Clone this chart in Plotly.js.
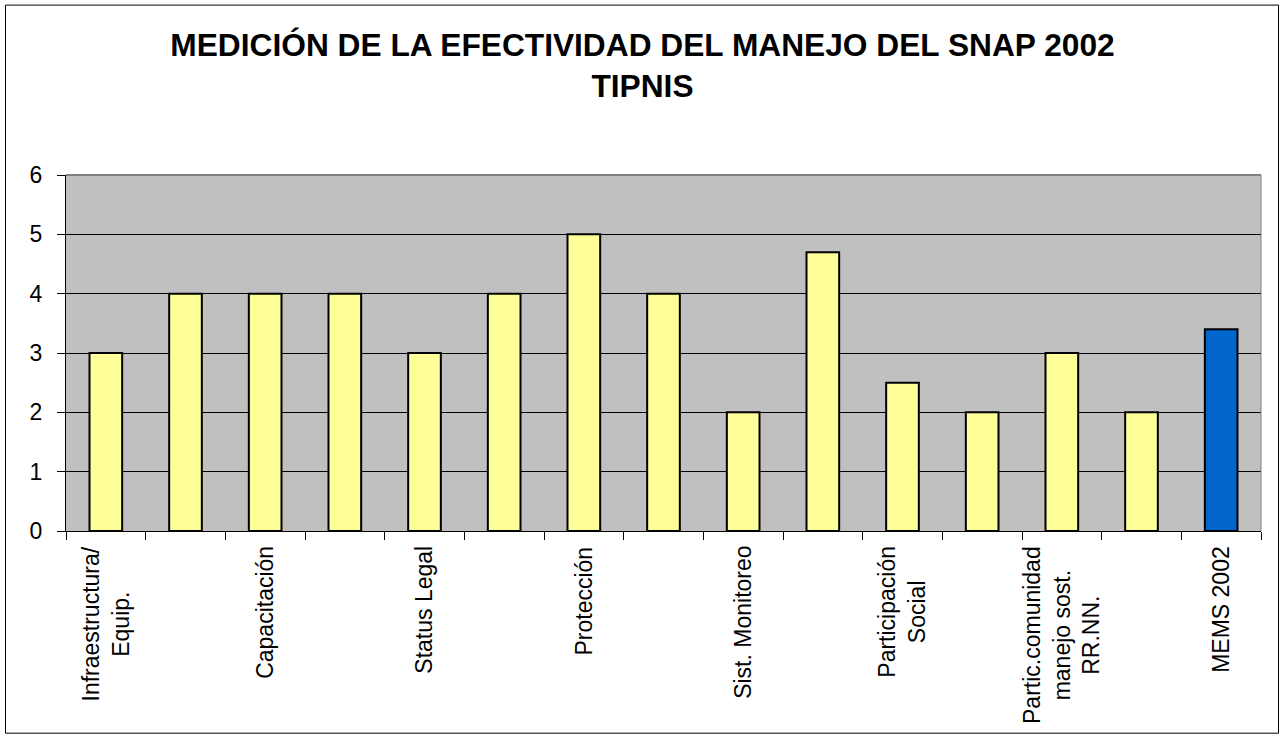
<!DOCTYPE html>
<html>
<head>
<meta charset="utf-8">
<script src="https://cdn.plot.ly/plotly-3.0.1.min.js"></script>
<style>html,body{margin:0;padding:0;background:#fff;}#chart{width:1285px;height:738px;}</style>
</head>
<body>
<div id="chart"></div>
<script>
// ---- data ----
var categoryIndex = [0,1,2,3,4,5,6,7,8,9,10,11,12,13,14];
var tickLabels = [
  "Infraestructura/<br>Equip.", "",
  "Capacitación", "",
  "Status Legal", "",
  "Protección", "",
  "Sist. Monitoreo", "",
  "Participación<br>Social", "",
  "Partic.comunidad<br>manejo sost.<br>RR.NN.", "",
  "MEMS 2002"
];
var values = [3, 4, 4, 4, 3, 4, 5, 4, 2, 4.7, 2.5, 2, 3, 2, 3.4];
var yTicks = [0, 1, 2, 3, 4, 5, 6];
var chartTitle = "MEDICIÓN DE LA EFECTIVIDAD DEL MANEJO DEL SNAP 2002<br>TIPNIS";

// ---- styling ----
var FONT = "Liberation Sans, Arial, sans-serif";
var barColors = values.map(function(v, i){ return i === values.length - 1 ? "#0066CC" : "#FFFF99"; });

var boundaries = [];
for (var b = 0; b <= categoryIndex.length; b++) boundaries.push(b - 0.5);

var annotations = tickLabels.map(function(t, i){
  return {
    x: categoryIndex[i], xref: "x", y: -0.037, yref: "paper",
    text: t, showarrow: false, textangle: -90,
    xanchor: "center", yanchor: "top", align: "center",
    font: {family: FONT, size: 23, color: "#000"}
  };
}).filter(function(a){ return a.text !== ""; });

var trace = {
  type: "bar",
  x: categoryIndex,
  y: values,
  marker: {color: barColors, line: {color: "#000", width: 2}},
  width: 0.41,
  hoverinfo: "y"
};

var layout = {
  width: 1285, height: 738,
  paper_bgcolor: "#FFFFFF",
  plot_bgcolor: "#C0C0C0",
  margin: {l: 66, r: 24, t: 174.5, b: 207.3, pad: 0},
  showlegend: false,
  title: {
    text: chartTitle,
    font: {family: FONT, size: 31.7, color: "#000", weight: "bold"},
    x: 0.5, xanchor: "center", xref: "container",
    y: 1 - 56/738, yanchor: "middle", yref: "container"
  },
  xaxis: {
    range: [-0.5, 14.5],
    tickmode: "array", tickvals: boundaries,
    ticktext: boundaries.map(function(){ return ""; }),
    ticks: "outside", ticklen: 8, tickwidth: 1, tickcolor: "#000",
    showline: true, linecolor: "#000", linewidth: 1,
    showgrid: false, zeroline: false, fixedrange: true
  },
  yaxis: {
    range: [0, 6],
    tickmode: "array", tickvals: yTicks,
    ticks: "outside", ticklen: 8, tickwidth: 1, tickcolor: "#000",
    ticklabelstandoff: 10,
    tickfont: {family: FONT, size: 23, color: "#000"},
    showline: true, linecolor: "#000", linewidth: 1,
    showgrid: true, gridcolor: "#000", gridwidth: 1,
    zeroline: false, fixedrange: true
  },
  shapes: [
    {type: "line", xref: "paper", yref: "paper", x0: 0, x1: 1, y0: 1, y1: 1, line: {color: "#808080", width: 2}},
    {type: "line", xref: "paper", yref: "paper", x0: 1, x1: 1, y0: 0, y1: 1, line: {color: "#808080", width: 1}},
    {type: "rect", xref: "paper", yref: "paper",
     x0: (5.5 - 66) / 1195, x1: (1278.5 - 66) / 1195,
     y0: (530.7 - 733) / 356.2, y1: (530.7 - 4.5) / 356.2,
     line: {color: "#000", width: 1}, fillcolor: "rgba(0,0,0,0)"}
  ],
  annotations: annotations
};

Plotly.newPlot("chart", [trace], layout, {displayModeBar: false, staticPlot: true});
</script>
</body>
</html>
